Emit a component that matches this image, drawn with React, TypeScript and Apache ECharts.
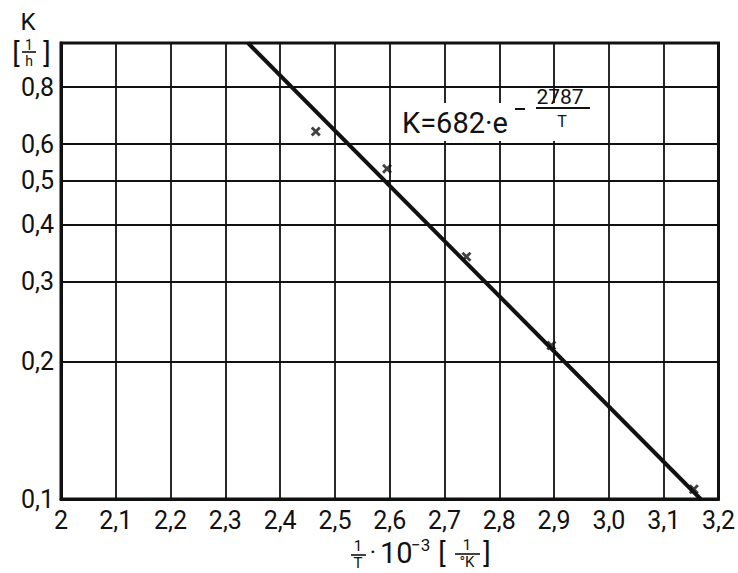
import React, { useEffect, useRef } from "react";
import * as echarts from "echarts";

// Axis ranges and ticks
const xMin = 2;
const xMax = 3.2;
const xStep = 0.1;
const yMin = 0.1;
const yMax = 1;
const yGridValues = [0.2, 0.3, 0.4, 0.5, 0.6, 0.8];
const yGridLabels = ["0,2", "0,3", "0,4", "0,5", "0,6", "0,8"];

// Measured rate constants: x = 1/T · 10^3, K in 1/h
const measX = [2.465, 2.595, 2.74, 2.895, 3.155];
const measK = [0.64, 0.53, 0.34, 0.217, 0.105];

// Arrhenius fit K = A · e^(-E/T)
const fitA = 682;
const fitE = 2787;

const INK = "#111";
const FONT = "Roboto";

function fitK(x: number): number {
  const T = 1000 / x;
  return fitA * Math.exp(-fitE / T);
}

function xAtK(k: number): number {
  return (1000 * Math.log(fitA / k)) / fitE;
}

function txt(text: string, x: number, y: number, size: number, align = "center") {
  return {
    type: "text",
    x,
    y,
    z: 100,
    style: {
      text,
      fill: INK,
      font: `${size}px ${FONT}`,
      align,
      textAlign: align,
      verticalAlign: "middle",
      textVerticalAlign: "middle",
    },
  };
}

function bar(x1: number, y: number, x2: number, w = 1.6) {
  return {
    type: "line",
    z: 100,
    shape: { x1, y1: y, x2, y2: y },
    style: { stroke: INK, lineWidth: w },
  };
}

export default function App() {
  const ref = useRef<HTMLDivElement>(null);

  useEffect(() => {
    document.body.style.margin = "0";
    if (!ref.current) return;
    const chart = echarts.init(ref.current, null, { renderer: "svg" });

    const x0 = xAtK(yMax);
    const x1 = xAtK(yMin);
    const fitLine = [x0, x1].map((x) => [x, fitK(x)]);

    chart.setOption({
      animation: false,
      backgroundColor: "#fff",
      textStyle: { fontFamily: FONT, color: INK },
      grid: {
        left: 61,
        right: 15,
        top: 43,
        bottom: 74,
        show: true,
        borderColor: INK,
        borderWidth: 3,
        backgroundColor: "transparent",
      },
      xAxis: {
        type: "value",
        min: xMin,
        max: xMax,
        interval: xStep,
        axisLine: { show: true, lineStyle: { color: INK, width: 3 } },
        axisTick: { show: false },
        splitLine: { show: true, lineStyle: { color: INK, width: 1.8 } },
        axisLabel: {
          color: INK,
          fontSize: 25,
          fontFamily: FONT,
          margin: 9,
          showMaxLabel: true,
          showMinLabel: true,
          formatter: (v: number) =>
            Math.abs(v - xMin) < 1e-6 ? "2" : v.toFixed(1).replace(".", ","),
        },
      },
      yAxis: {
        type: "log",
        logBase: 10,
        min: yMin,
        max: yMax,
        axisLine: { show: true, lineStyle: { color: INK, width: 3 } },
        axisTick: { show: false },
        splitLine: { show: true, lineStyle: { color: INK, width: 1.8 } },
        axisLabel: {
          color: INK,
          fontSize: 25,
          fontFamily: FONT,
          margin: 7,
          formatter: (v: number) => (Math.abs(v - yMin) < 1e-9 ? "0,1" : ""),
        },
      },
      series: [
        {
          type: "line",
          data: fitLine,
          showSymbol: false,
          symbol: "none",
          lineStyle: { color: INK, width: 4 },
          clip: true,
          z: 5,
        },
        {
          type: "scatter",
          data: measX.map((x, i) => [x, measK[i]]),
          symbol:
            "path://M0,2L2,0L5,3L8,0L10,2L7,5L10,8L8,10L5,7L2,10L0,8L3,5Z",
          symbolSize: 10,
          itemStyle: { color: INK },
          z: 6,
          markLine: {
            silent: true,
            symbol: ["none", "none"],
            lineStyle: { color: INK, width: 1.8, type: "solid" },
            label: {
              position: "start",
              distance: 7,
              color: INK,
              fontSize: 25,
              fontFamily: FONT,
            },
            data: yGridValues.map((v, i) => ({
              yAxis: v,
              label: { formatter: yGridLabels[i] },
            })),
          },
        },
      ],
      graphic: [
        // y axis title: K [1/h]
        txt("K", 28, 22, 24),
        txt("[", 16, 53, 28),
        txt("1", 29, 45, 14),
        bar(22, 52, 36),
        txt("h", 29, 61, 14),
        txt("]", 47, 53, 28),
        // x axis title: 1/T · 10^-3 [1/°K]
        txt("1", 358, 546, 15),
        bar(351, 555, 366),
        txt("T", 358, 563, 15),
        txt("·", 373, 552, 24),
        txt("10", 380, 553, 29, "left"),
        txt("−3", 411, 545, 17, "left"),
        txt("[", 442, 553, 28),
        txt("1", 467, 545, 15),
        bar(455, 554, 480),
        txt("°K", 467, 562, 15),
        txt("]", 487, 553, 28),
        // fit formula
        {
          type: "rect",
          z: 99,
          shape: { x: 398, y: 103, width: 209, height: 38 },
          style: { fill: "#fff" },
        },
        txt("K=682·e", 402, 123, 29, "left"),
        bar(515, 109, 525, 2),
        txt("2787", 560, 97, 21),
        bar(536, 108, 590, 1.8),
        txt("T", 562, 121, 16),
      ],
    });

    return () => chart.dispose();
  }, []);

  return <div ref={ref} style={{ width: 738, height: 573 }} />;
}
